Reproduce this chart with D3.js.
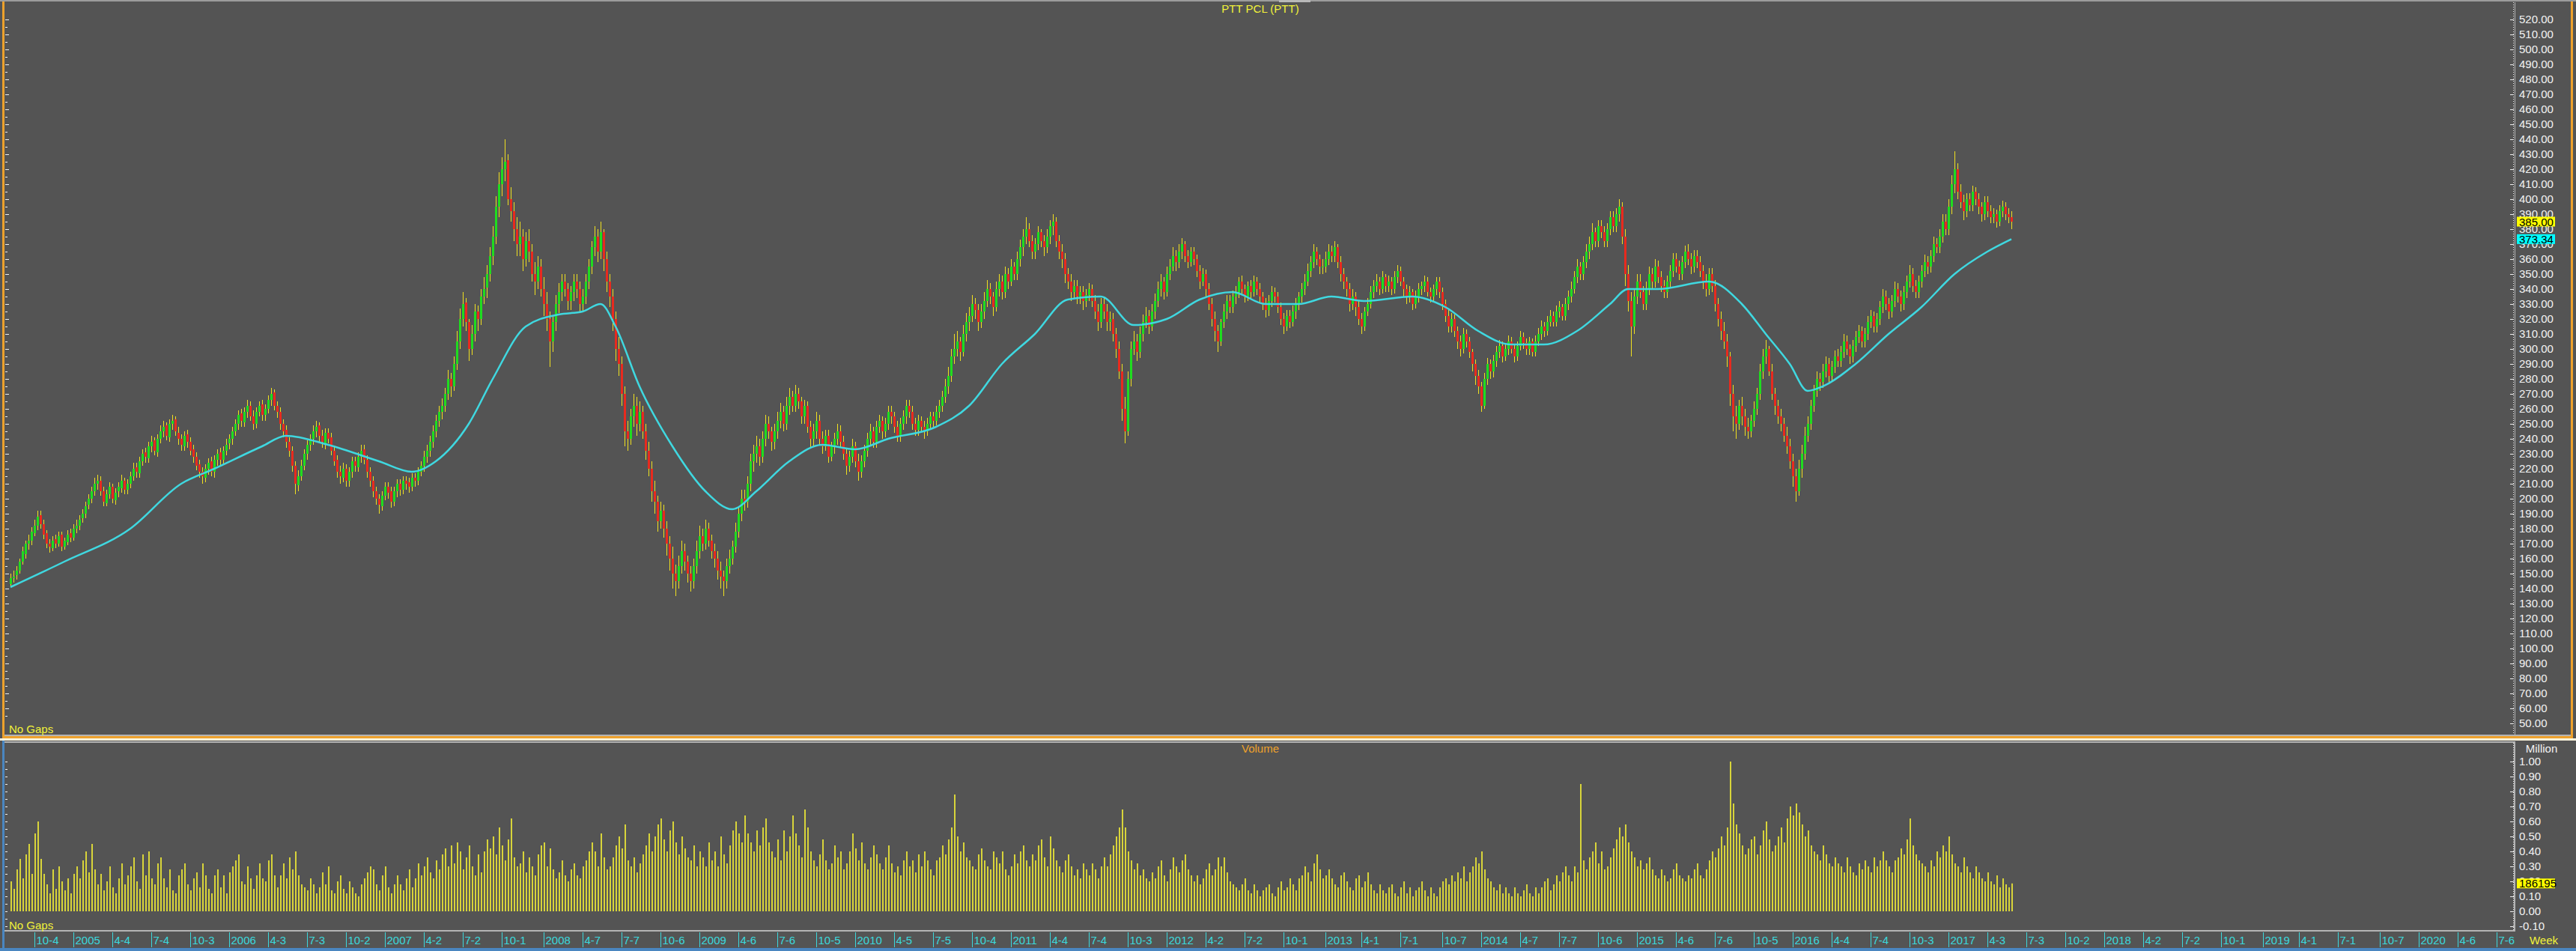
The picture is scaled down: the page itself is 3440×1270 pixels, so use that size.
<!DOCTYPE html>
<html><head><meta charset="utf-8">
<script src="https://cdn.jsdelivr.net/npm/d3@7"></script>
<style>
html,body{margin:0;padding:0;background:#545454;overflow:hidden;}
svg{display:block;}
text{font-family:"Liberation Sans",Arial,sans-serif;}
</style></head><body>
<svg id="c" width="3440" height="1270"></svg>
<script>
// ---------------- DATA (weekly bars from 2004-08-09) ----------------
const firstWeek = "2004-08-09";
const closeP = [147,148,152,158,165,170,172,178,182,188,183,176,170,168,172,170,175,168,172,176,
174,180,182,186,190,195,200,205,210,212,205,198,203,208,200,204,208,212,206,210,
215,220,218,225,230,228,235,238,232,240,245,248,242,250,252,245,240,236,242,238,
232,228,222,218,215,220,224,218,226,230,226,232,236,240,245,250,256,252,258,262,
255,250,258,262,256,260,266,270,262,258,250,245,238,232,222,210,215,222,230,236,
240,245,248,242,238,244,240,232,225,218,215,220,212,218,225,222,228,232,226,218,
212,205,200,196,202,208,204,198,205,210,206,212,210,208,214,212,218,222,228,232,
238,245,252,258,262,270,280,275,290,305,320,330,318,300,310,325,320,335,340,350,
362,375,395,410,420,425,400,392,380,370,375,360,372,365,350,345,355,340,330,320,
305,318,330,338,345,340,332,338,345,340,330,335,345,355,368,375,365,378,360,345,
335,320,300,290,270,245,240,255,262,250,258,245,232,220,205,198,185,192,180,170,
160,150,145,155,165,158,150,145,155,165,175,170,180,172,165,160,152,148,145,155,
160,168,178,190,200,198,210,225,230,235,228,240,250,245,238,245,252,258,250,262,
268,262,270,265,255,262,248,240,245,252,240,235,242,228,235,240,245,238,230,222,
228,235,225,218,225,232,240,245,238,248,252,245,250,258,255,248,242,250,255,262,
258,250,246,252,248,245,250,255,252,258,262,268,275,282,295,300,305,298,310,318,
322,330,326,318,325,332,340,335,328,340,345,338,350,345,355,350,360,368,375,380,
372,365,370,378,372,368,375,382,385,372,365,360,350,345,338,342,335,338,332,336,
340,332,325,318,330,325,318,320,310,300,285,260,245,280,300,305,298,310,318,322,
315,325,332,340,345,338,350,355,362,358,365,370,362,358,365,360,352,345,350,340,
330,320,312,305,318,325,332,328,335,338,345,340,335,342,338,345,340,335,330,326,
332,338,335,328,320,315,322,318,325,330,335,340,345,352,358,365,360,355,355,360,
365,362,368,358,350,345,340,330,335,328,320,315,325,330,338,342,345,340,348,342,
345,340,348,352,345,340,335,338,330,335,340,342,345,338,335,340,345,338,330,322,
315,320,312,305,300,310,305,298,290,282,275,262,280,290,285,292,298,302,295,300,
305,300,295,302,308,304,300,305,298,305,310,315,312,318,322,318,325,328,322,330,
335,340,348,355,350,358,365,370,378,372,382,378,372,380,388,382,390,395,375,350,
332,315,335,345,338,330,340,350,345,355,348,342,338,345,352,360,355,350,358,365,
360,355,362,358,352,345,340,350,342,330,320,312,305,295,270,255,250,262,255,248,
245,252,260,270,285,295,300,285,270,262,255,250,242,235,225,215,205,220,230,242,
250,262,272,280,278,285,290,282,288,295,292,298,305,300,295,302,308,312,305,310,
318,322,315,320,328,335,330,325,332,340,335,330,338,345,350,342,338,345,352,358,
355,362,370,368,375,385,380,395,410,420,405,398,392,400,396,405,400,395,390,398,
392,388,390,385,392,395,390,388,385];
const openP = [143,147,149,152,158,163,170,172,177,182,189,183,177,170,167,173,170,176,168,171,
177,174,180,182,187,190,196,200,205,210,212,205,197,203,208,199,205,207,212,206,
210,215,221,217,225,231,227,235,239,231,240,245,249,241,250,253,244,240,235,243,
238,233,228,223,218,214,220,225,218,226,231,226,232,237,240,245,250,257,251,258,
262,255,250,258,263,256,260,266,271,262,258,250,246,238,232,222,209,215,222,230,
236,240,245,249,242,237,244,241,232,226,218,214,220,212,218,225,221,228,233,226,
218,212,205,200,195,202,208,205,198,205,210,206,212,211,208,214,212,218,222,228,
232,238,245,252,258,262,270,280,275,290,305,320,331,318,300,310,325,320,335,341,
350,362,375,395,410,420,426,400,392,380,370,375,360,372,365,350,345,355,340,330,
320,305,318,330,338,345,340,332,338,345,340,330,335,345,355,368,375,365,378,360,
345,335,320,300,290,270,245,240,255,262,250,258,245,232,220,205,198,185,192,180,
170,160,150,145,155,165,158,150,145,155,165,175,170,180,172,165,160,152,148,145,
155,160,168,178,190,200,198,210,225,230,235,228,240,250,245,238,245,252,258,250,
262,268,262,270,265,255,262,248,240,245,252,240,235,242,228,235,240,245,238,230,
222,228,235,225,218,225,232,240,245,238,248,252,245,250,258,255,248,242,250,255,
262,258,250,246,252,248,245,250,255,252,258,262,268,275,282,295,300,305,298,310,
318,322,330,326,318,325,332,340,335,328,340,345,338,350,345,355,350,360,368,375,
380,372,365,370,378,372,368,375,382,385,372,365,360,350,345,338,342,335,338,332,
336,340,332,325,318,330,325,318,320,310,300,285,260,245,280,300,305,298,310,318,
322,315,325,332,340,345,338,350,355,362,358,365,370,362,358,365,360,352,345,350,
340,330,320,312,305,318,325,332,328,335,338,345,340,335,342,338,345,340,335,330,
326,332,338,335,328,320,315,322,318,325,330,335,340,345,352,358,365,360,355,355,
360,365,362,368,358,350,345,340,330,335,328,320,315,325,330,338,342,345,340,348,
342,345,340,348,352,345,340,335,338,330,335,340,342,345,338,335,340,345,338,330,
322,315,320,312,305,300,310,305,298,290,282,275,262,280,290,285,292,298,302,295,
300,305,300,295,302,308,304,300,305,298,305,310,315,312,318,322,318,325,328,322,
330,335,340,348,355,350,358,365,370,378,372,382,378,372,380,388,382,390,395,375,
350,332,315,335,345,338,330,340,350,345,355,348,342,338,345,352,360,355,350,358,
365,360,355,362,358,352,345,340,350,342,330,320,312,305,295,270,255,250,262,255,
248,245,252,260,270,285,295,300,285,270,262,255,250,242,235,225,215,205,220,230,
242,250,262,272,280,278,285,290,282,288,295,292,298,305,300,295,302,308,312,305,
310,318,322,315,320,328,335,330,325,332,340,335,330,338,345,350,342,338,345,352,
358,355,362,370,368,375,385,380,395,410,420,405,398,392,400,396,405,400,395,390,
398,392,388,390,385,392,395,390,388];
const highP = [150,152,155,160,168,172,176,181,186,192,192,186,179,173,175,176,178,178,174,179,
180,183,186,189,193,198,203,208,214,216,215,208,206,211,210,207,211,216,214,213,
218,224,224,228,233,234,238,242,241,243,249,252,251,253,256,255,248,243,245,246,
241,236,231,226,221,223,227,228,229,233,234,235,240,243,248,253,259,260,261,266,
265,259,261,265,266,263,269,274,273,265,261,253,249,241,235,225,219,226,233,239,
243,249,252,251,246,247,247,244,235,229,222,224,223,221,228,228,231,236,236,229,
221,215,208,203,205,211,211,208,208,213,213,215,215,214,217,217,221,225,232,236,
242,249,256,262,267,274,286,284,295,312,327,338,334,320,316,330,329,340,348,356,
368,382,402,418,428,440,430,408,398,388,385,380,378,380,370,358,362,360,348,338,
325,322,336,344,350,350,344,342,350,350,345,340,350,360,372,382,380,385,380,365,
350,340,325,308,295,275,252,260,270,268,265,262,250,238,225,212,202,198,196,185,
175,168,156,162,172,170,162,155,160,172,182,180,186,184,176,170,165,158,152,160,
166,172,184,195,206,206,215,230,236,242,240,245,256,255,248,250,258,264,262,268,
274,272,276,274,268,266,265,252,250,258,256,245,246,246,238,244,250,249,242,234,
232,240,238,230,229,236,244,250,248,252,256,255,254,262,262,258,252,254,259,266,
266,262,254,256,255,252,254,258,258,262,266,272,280,288,300,310,312,308,316,324,
328,336,334,330,330,338,346,344,338,345,350,349,355,354,360,358,365,373,380,388,
384,376,374,382,380,376,380,386,390,388,376,370,364,354,350,346,346,342,342,340,
344,343,336,330,334,334,330,325,324,314,305,290,268,285,305,312,310,315,323,328,
326,330,337,345,350,348,355,360,368,366,370,374,372,366,368,368,363,356,354,353,
344,334,325,316,320,330,336,336,339,342,348,349,343,345,346,349,348,344,338,334,
336,342,341,338,331,324,326,326,329,334,338,344,350,357,362,370,368,363,360,365,
370,369,372,370,362,354,348,344,340,338,332,324,328,334,342,346,350,348,352,350,
349,348,352,356,355,348,343,342,340,339,344,345,349,348,341,343,348,348,341,333,
326,324,323,315,309,314,313,308,300,293,286,278,284,294,293,296,302,306,305,304,
309,308,303,305,312,311,307,308,307,309,314,319,318,322,326,325,329,332,330,334,
339,345,352,360,358,362,370,375,384,381,386,386,382,384,392,392,394,400,398,380,
356,338,340,350,350,342,345,355,354,360,359,352,346,349,356,364,364,359,362,369,
370,364,366,366,362,356,350,354,354,346,334,325,318,310,298,276,262,266,268,260,
254,256,265,274,290,300,306,302,290,274,266,260,254,248,240,230,220,226,236,248,
255,266,276,285,284,290,295,294,292,299,300,302,310,309,303,306,312,316,315,314,
322,326,325,324,332,340,339,334,336,345,344,339,342,349,356,354,346,349,356,363,
362,366,375,374,380,390,390,400,416,432,424,410,403,404,404,409,408,404,398,402,
402,396,394,393,396,399,398,394,392];
const lowP = [141,144,146,150,156,160,166,169,175,179,180,173,167,164,165,167,168,165,166,169,
171,172,177,179,184,187,193,197,202,206,202,195,195,200,197,196,201,204,203,203,
207,212,214,214,222,224,224,231,229,228,237,241,239,238,246,242,236,232,232,234,
229,224,219,214,210,211,216,215,214,222,222,223,229,233,236,242,246,248,248,254,
252,246,247,255,252,252,257,262,259,254,246,241,234,228,218,203,205,212,219,226,
232,236,241,238,234,233,237,229,222,214,210,211,208,208,214,218,218,224,223,214,
208,201,196,190,192,199,200,194,195,201,202,203,206,204,205,208,209,215,218,224,
228,234,241,248,253,258,266,268,272,286,300,315,312,292,296,305,312,316,330,334,
345,356,370,388,402,412,396,385,372,362,362,352,355,358,345,336,340,335,322,312,
288,298,312,324,332,335,326,326,332,334,324,325,330,340,350,362,358,360,352,338,
328,312,292,282,262,235,232,236,248,242,245,240,226,215,198,190,178,180,174,162,
152,140,135,140,150,152,144,138,140,150,160,165,166,168,160,154,146,140,135,140,
150,156,164,174,185,192,194,205,218,224,222,224,235,240,232,233,240,247,245,246,
256,258,258,260,250,250,244,234,235,240,236,230,232,224,225,230,236,234,226,216,
218,224,221,212,214,221,228,235,234,234,244,240,241,246,250,244,238,238,246,250,
254,246,242,242,244,240,242,246,248,249,254,258,264,270,278,290,295,292,295,305,
312,318,320,312,314,320,328,330,322,325,335,333,334,340,342,346,346,355,362,370,
368,360,360,366,368,362,364,370,376,368,360,354,344,340,332,334,330,330,326,328,
332,328,320,312,314,320,312,312,305,294,280,252,237,242,275,296,292,294,305,314,
310,312,320,328,335,333,335,346,352,352,354,360,358,354,355,356,348,340,342,335,
326,315,305,298,302,314,320,324,324,330,334,337,331,332,334,335,336,331,326,321,
322,328,331,324,316,310,312,314,315,320,326,331,336,342,348,354,356,350,350,351,
356,358,358,354,345,340,335,325,326,322,316,310,312,322,327,334,338,336,337,338,
338,336,337,344,342,335,330,331,326,327,331,336,338,335,331,332,336,334,326,318,
311,311,308,300,295,297,301,294,285,276,270,258,260,276,280,281,288,294,291,292,
296,297,291,292,299,300,296,296,295,295,302,306,308,309,315,315,315,321,319,319,
326,331,337,344,346,346,354,360,366,368,368,374,368,368,376,378,378,385,370,342,
325,295,310,330,334,326,326,336,340,341,344,338,334,334,341,348,351,346,346,354,
356,350,351,354,348,340,335,336,338,325,315,306,300,288,262,245,240,246,249,242,
240,241,248,256,266,280,290,282,266,256,250,245,238,230,220,208,198,202,214,226,
238,246,258,268,272,274,281,278,278,284,288,288,294,296,290,291,298,304,301,301,
306,314,311,311,316,324,326,320,321,328,331,325,326,334,341,338,334,334,341,348,
350,351,358,364,364,371,376,376,390,404,400,394,386,388,392,392,396,390,385,386,
388,384,384,381,382,388,386,384,380];
const volumeM = [.20,.15,.28,.35,.22,.38,.45,.25,.52,.60,.35,.25,.18,.12,.28,.15,.30,.20,.14,.22,
.12,.25,.30,.22,.34,.40,.26,.45,.28,.18,.25,.14,.20,.30,.16,.12,.22,.32,.18,.24,
.30,.36,.20,.15,.38,.24,.40,.22,.18,.32,.36,.22,.16,.28,.14,.12,.24,.28,.32,.18,
.14,.22,.26,.16,.32,.24,.15,.12,.24,.28,.16,.24,.12,.26,.30,.34,.38,.20,.18,.30,
.22,.15,.24,.32,.22,.20,.34,.38,.24,.16,.24,.32,.22,.36,.28,.40,.24,.18,.16,.14,
.22,.18,.12,.16,.26,.18,.30,.14,.12,.20,.24,.15,.12,.20,.16,.12,.10,.18,.22,.26,
.30,.28,.18,.14,.24,.30,.16,.12,.18,.24,.18,.14,.22,.28,.16,.22,.32,.24,.30,.36,
.26,.22,.34,.28,.38,.42,.30,.44,.32,.46,.40,.28,.36,.44,.30,.24,.38,.26,.40,.48,
.42,.50,.38,.56,.44,.34,.48,.62,.36,.30,.32,.40,.26,.36,.30,.24,.38,.44,.46,.30,
.42,.28,.22,.26,.34,.24,.20,.28,.32,.24,.22,.30,.34,.40,.46,.40,.30,.52,.36,.28,
.30,.36,.44,.50,.42,.58,.34,.30,.36,.26,.32,.38,.44,.52,.40,.50,.58,.62,.48,.40,
.54,.60,.46,.38,.50,.42,.36,.34,.44,.30,.40,.36,.30,.46,.34,.40,.30,.50,.38,.32,
.44,.54,.60,.52,.46,.64,.52,.46,.40,.54,.44,.56,.62,.46,.40,.36,.48,.34,.54,.40,
.50,.64,.52,.44,.36,.68,.56,.40,.34,.30,.38,.48,.34,.28,.32,.44,.36,.40,.28,.32,
.40,.52,.42,.34,.46,.32,.28,.36,.44,.38,.32,.28,.36,.44,.32,.26,.30,.24,.34,.40,
.30,.34,.26,.38,.30,.40,.34,.28,.24,.34,.36,.44,.38,.48,.56,.78,.50,.40,.46,.36,
.34,.30,.28,.38,.42,.34,.30,.28,.40,.36,.32,.40,.28,.24,.30,.38,.32,.40,.44,.34,
.30,.38,.34,.44,.48,.36,.30,.50,.42,.34,.30,.26,.34,.38,.30,.24,.28,.22,.32,.28,
.24,.32,.28,.22,.30,.36,.30,.38,.44,.50,.56,.68,.56,.40,.34,.28,.32,.24,.28,.22,
.20,.26,.22,.30,.34,.24,.20,.28,.36,.30,.26,.34,.38,.28,.24,.20,.24,.18,.22,.28,
.32,.24,.28,.36,.30,.36,.26,.20,.18,.16,.14,.18,.22,.14,.12,.18,.14,.10,.14,.16,
.18,.12,.10,.16,.20,.14,.16,.22,.18,.14,.22,.24,.30,.26,.20,.32,.38,.28,.22,.24,
.28,.22,.18,.16,.24,.26,.20,.16,.14,.22,.24,.16,.20,.26,.18,.14,.12,.18,.14,.12,
.16,.18,.12,.10,.16,.20,.12,.16,.10,.14,.16,.20,.14,.10,.16,.12,.10,.16,.20,.22,
.18,.24,.20,.26,.22,.30,.20,.26,.30,.36,.32,.40,.28,.22,.20,.16,.14,.18,.12,.16,
.12,.10,.16,.12,.10,.14,.18,.12,.10,.16,.12,.16,.20,.22,.14,.18,.24,.20,.26,.30,
.24,.20,.30,.26,.85,.34,.28,.36,.40,.46,.32,.40,.28,.30,.36,.42,.48,.56,.50,.58,
.46,.40,.36,.30,.34,.28,.32,.36,.28,.24,.22,.28,.24,.20,.22,.28,.32,.24,.22,.20,
.24,.22,.28,.32,.24,.22,.28,.34,.40,.36,.42,.50,.44,.56,1.00,.72,.58,.52,.44,.38,
.42,.48,.50,.38,.44,.54,.60,.48,.40,.44,.50,.56,.46,.62,.70,.64,.72,.66,.58,.50,
.54,.44,.40,.38,.34,.44,.38,.32,.30,.36,.32,.30,.26,.36,.30,.26,.24,.32,.28,.34,
.30,.26,.36,.30,.34,.40,.34,.30,.26,.34,.36,.42,.38,.48,.62,.44,.38,.34,.32,.30,
.26,.34,.30,.40,.36,.44,.40,.50,.38,.32,.30,.26,.36,.30,.26,.22,.30,.26,.22,.20,
.26,.20,.18,.24,.16,.22,.18,.16,.186195];
// moving-average knots (week number, value)
const maWeek = [0,18,40,57,68,84,92,106,123,134,142,153,161,172,183,191,197,202,210,221,232,241,249,260,271,282,293,309,320,331,342,353,364,375,386,397,408,419,430,441,452,468,479,490,501,512,523,534,540,550,567,578,586,594,600,605,616,627,638,649,660,668];
const maValue = [141,158,180,210,220,235,242,236,225,218,225,250,280,315,323,325,330,315,275,235,205,193,205,225,236,233,240,248,262,290,310,333,335,316,320,333,338,330,330,335,332,335,328,312,303,303,312,330,340,340,345,330,310,290,272,275,290,310,328,350,365,373.34];
const tickDates = ["2004-10-04","2005-01-03","2005-04-04","2005-07-04","2005-10-03","2006-01-02","2006-04-03","2006-07-03","2006-10-02","2007-01-01","2007-04-02","2007-07-02","2007-10-01","2008-01-07","2008-04-07","2008-07-07","2008-10-06","2009-01-05","2009-04-06","2009-07-06","2009-10-05","2010-01-04","2010-04-05","2010-07-05","2010-10-04","2011-01-03","2011-04-04","2011-07-04","2011-10-03","2012-01-02","2012-04-02","2012-07-02","2012-10-01","2013-01-07","2013-04-01","2013-07-01","2013-10-07","2014-01-06","2014-04-07","2014-07-07","2014-10-06","2015-01-05","2015-04-06","2015-07-06","2015-10-05","2016-01-04","2016-04-04","2016-07-04","2016-10-03","2017-01-02","2017-04-03","2017-07-03","2017-10-02","2018-01-01","2018-04-02","2018-07-02","2018-10-01","2019-01-07","2019-04-01","2019-07-01","2019-10-07","2020-01-06","2020-04-06","2020-07-06"];
const priceTicks = d3.range(50, 521, 10);
const volumeTicks = d3.range(-0.1, 1.0001, 0.1);
const title = "PTT PCL (PTT)";
const lastClose = 385.00, lastMA = 373.34, lastVolume = 186195;

// ---------------- DRAW ----------------
const svg = d3.select("#c");
const C = {bg:"#545454", up:"#1fdc1f", down:"#e82a1e", wick:"#f0e020", ma:"#3fd8e0",
  vol:"#d8d43a", axisText:"#f2f2f2", cyan:"#3cd8dc", yellow:"#f2f23a", orange:"#eda12c",
  frame:"#b4b4b4", blue:"#4a86c0"};
const dayMs = 864e5;
const t0 = Date.parse(firstWeek + "T00:00:00Z");
const weekOf = s => Math.round((Date.parse(s + "T00:00:00Z") - t0) / (7 * dayMs));

const x = d3.scaleLinear().domain([0, 1]).range([14, 18]);
const yP = d3.scaleLinear().domain([50, 520]).range([966, 26]);
const yV = d3.scaleLinear().domain([-0.1, 1.0]).range([1237, 1017]);

svg.append("rect").attr("width", 3440).attr("height", 1270).attr("fill", C.bg);

// frame
svg.append("rect").attr("x", 0).attr("y", 0).attr("width", 3440).attr("height", 2).attr("fill", "#9c9c9c");
svg.append("rect").attr("x", 1708).attr("y", 0).attr("width", 42).attr("height", 3).attr("fill", "#b8b8b8");
svg.append("rect").attr("x", 3).attr("y", 2).attr("width", 3).attr("height", 984).attr("fill", C.orange);
svg.append("rect").attr("x", 3433).attr("y", 2).attr("width", 3).attr("height", 984).attr("fill", C.orange);
svg.append("rect").attr("x", 6).attr("y", 981).attr("width", 3427).attr("height", 2).attr("fill", C.frame);
svg.append("rect").attr("x", 3).attr("y", 983).attr("width", 3433).attr("height", 3).attr("fill", C.orange);
svg.append("rect").attr("x", 0).attr("y", 986).attr("width", 3440).attr("height", 3).attr("fill", "#fbf3da");
svg.append("rect").attr("x", 6).attr("y", 990).attr("width", 3352).attr("height", 2).attr("fill", C.frame);
svg.append("rect").attr("x", 3).attr("y", 989).attr("width", 3).attr("height", 281).attr("fill", C.blue);
svg.append("rect").attr("x", 6).attr("y", 1242).attr("width", 3352).attr("height", 2).attr("fill", C.frame);
svg.append("rect").attr("x", 0).attr("y", 1266).attr("width", 3440).attr("height", 4).attr("fill", C.blue);
svg.append("rect").attr("x", 3357).attr("y", 990).attr("width", 2).attr("height", 254).attr("fill", C.frame);

// left ticks
const gl = svg.append("g").attr("stroke", "#f0f0f0").attr("stroke-width", 1);
d3.range(55, 521, 5).forEach(v => {
  const yy = Math.round(yP(v)) + 0.5;
  gl.append("line").attr("x1", 7).attr("x2", v % 10 === 0 ? 12 : 10).attr("y1", yy).attr("y2", yy);
});
d3.range(-0.1, 1.05, 0.05).forEach(v => {
  const yy = Math.round(yV(v)) + 0.5;
  gl.append("line").attr("x1", 7).attr("x2", 10).attr("y1", yy).attr("y2", yy);
});

// candles
const n = closeP.length;
const cg = svg.append("g");
d3.range(n).forEach(i => {
  const o = openP[i], c = closeP[i];
  const up = c >= o;
  const xc = Math.round(x(i));
  const hi = Math.max(highP[i], o, c), lo = Math.min(lowP[i], o, c);
  const yt = yP(Math.max(o, c)), yb = yP(Math.min(o, c));
  cg.append("line").attr("x1", xc + 0.5).attr("x2", xc + 0.5)
    .attr("y1", yP(hi)).attr("y2", yP(lo))
    .attr("stroke", C.wick).attr("stroke-width", 1);
  cg.append("rect").attr("x", xc - 1).attr("y", yt).attr("width", 3)
    .attr("height", Math.max(1, yb - yt)).attr("fill", up ? C.up : C.down);
});

// moving average
const maPts = maWeek.map((w, k) => [x(w), yP(maValue[k])]);
svg.append("path").attr("d", d3.line().curve(d3.curveMonotoneX)(maPts))
  .attr("fill", "none").attr("stroke", C.ma).attr("stroke-width", 2.5);

// volume
const vg = svg.append("g");
volumeM.forEach((v, i) => {
  const xc = Math.round(x(i));
  vg.append("rect").attr("x", xc).attr("y", yV(v)).attr("width", 2)
    .attr("height", yV(0) - yV(v)).attr("fill", C.vol);
});

// right axes
const ra = svg.append("g");
ra.append("line").attr("x1", 3356.5).attr("x2", 3356.5).attr("y1", 3).attr("y2", 981)
  .attr("stroke", "#eeeeee").attr("stroke-dasharray", "1,2");
ra.append("line").attr("x1", 3358.5).attr("x2", 3358.5).attr("y1", 3).attr("y2", 981)
  .attr("stroke", C.frame);
ra.append("line").attr("x1", 3356.5).attr("x2", 3356.5).attr("y1", 992).attr("y2", 1242)
  .attr("stroke", "#eeeeee").attr("stroke-dasharray", "1,2");
priceTicks.forEach(v => {
  const yy = Math.round(yP(v)) + 0.5;
  ra.append("line").attr("x1", 3352).attr("x2", 3357).attr("y1", yy).attr("y2", yy).attr("stroke", "#eeeeee");
  ra.append("text").attr("x", 3364).attr("y", yP(v) + 5).attr("fill", C.axisText)
    .attr("font-size", 15).text(v.toFixed(2));
});
volumeTicks.forEach(v => {
  const yy = Math.round(yV(v)) + 0.5;
  ra.append("line").attr("x1", 3352).attr("x2", 3357).attr("y1", yy).attr("y2", yy).attr("stroke", "#eeeeee");
  ra.append("text").attr("x", 3364).attr("y", yV(v) + 5).attr("fill", C.axisText)
    .attr("font-size", 15).text((Math.abs(v) < 1e-9 ? 0 : v).toFixed(2));
});
ra.append("text").attr("x", 3394).attr("y", 1005).attr("text-anchor", "middle")
  .attr("fill", C.axisText).attr("font-size", 15).text("Million");

// value boxes
function box(yc, txt, fill) {
  svg.append("rect").attr("x", 3361).attr("y", yc - 6.5).attr("width", 51).attr("height", 13).attr("fill", fill);
  svg.append("text").attr("x", 3364).attr("y", yc + 5.5).attr("fill", "#000").attr("font-size", 15).text(txt);
}
box(yP(lastClose), lastClose.toFixed(2), "#ffff00");
box(yP(lastMA), lastMA.toFixed(2), "#00ffff");
box(yV(lastVolume / 1e6), String(lastVolume), "#ffff00");

// x axis
const fmt = s => { const d = new Date(s + "T00:00:00Z"); const m = d.getUTCMonth() + 1;
  return m === 1 ? String(d.getUTCFullYear()) : m + "-" + d.getUTCDate(); };
const xa = svg.append("g");
tickDates.forEach(s => {
  const xx = Math.round(x(weekOf(s))) + 0.5;
  xa.append("line").attr("x1", xx).attr("x2", xx).attr("y1", 1245).attr("y2", 1265)
    .attr("stroke", C.cyan).attr("stroke-width", 1);
  xa.append("text").attr("x", xx + 2).attr("y", 1261).attr("fill", C.cyan)
    .attr("font-size", 15).text(fmt(s));
});
svg.append("text").attr("x", 3397).attr("y", 1261).attr("text-anchor", "middle")
  .attr("fill", C.yellow).attr("font-size", 15).text("Week");

// titles
svg.append("text").attr("x", 1683).attr("y", 17).attr("text-anchor", "middle")
  .attr("fill", C.yellow).attr("font-size", 15).text(title);
svg.append("text").attr("x", 1683).attr("y", 1005).attr("text-anchor", "middle")
  .attr("fill", C.orange).attr("font-size", 15).text("Volume");
svg.append("text").attr("x", 12).attr("y", 979).attr("fill", C.yellow).attr("font-size", 15).text("No Gaps");
svg.append("text").attr("x", 12).attr("y", 1241).attr("fill", C.yellow).attr("font-size", 15).text("No Gaps");
</script>
</body></html>
